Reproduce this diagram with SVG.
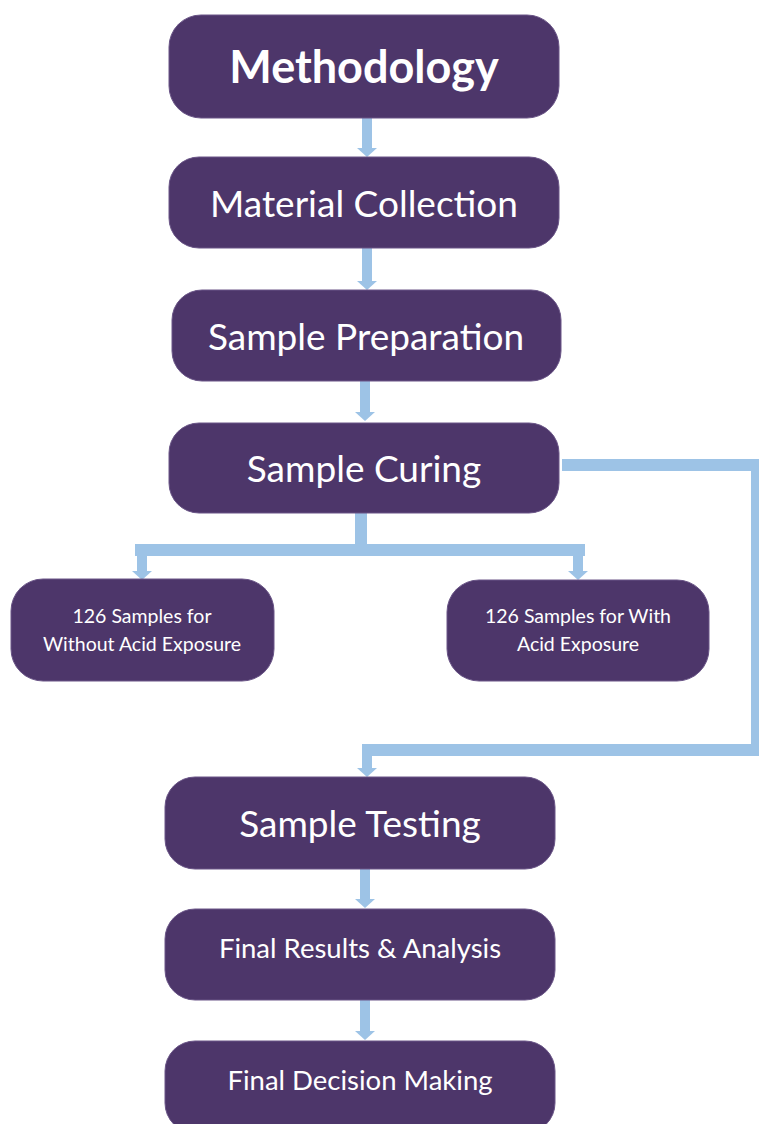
<svg xmlns="http://www.w3.org/2000/svg" width="759" height="1124" viewBox="0 0 759 1124">
<style>
.box{fill:#4D366A;stroke:#6A5587;stroke-width:1}
.t{fill:#FFFFFF;font-family:Lato,"Open Sans","Liberation Sans",sans-serif;text-anchor:middle}
.big{font-size:37px}
.mid{font-size:27.5px}
.sm{font-size:19.5px}
.title{font-size:45px;font-weight:bold}
.c{fill:#9DC3E6}
.cl{fill:none;stroke:#9DC3E6;stroke-width:12;stroke-linejoin:miter}
</style>
<rect width="759" height="1124" fill="#FFFFFF"/>
<g id="connectors">
  <rect class="c" x="362" y="118" width="10" height="31"/>
  <polygon class="c" points="357,148 377,148 367,157"/>
  <rect class="c" x="362" y="248" width="10" height="34"/>
  <polygon class="c" points="357,281 377,281 367,290"/>
  <rect class="c" x="360" y="381" width="10" height="32"/>
  <polygon class="c" points="355,412 375,412 365,421"/>
  <rect class="c" x="355" y="513" width="12" height="37"/>
  <rect class="c" x="135" y="544" width="450" height="12"/>
  <rect class="c" x="137" y="555" width="10" height="17"/>
  <polygon class="c" points="132,571 152,571 142,580"/>
  <rect class="c" x="573" y="555" width="10" height="17"/>
  <polygon class="c" points="568,571 588,571 578,580"/>
  <path class="cl" d="M562,465 H757 V750 H362"/>
  <rect class="c" x="362" y="750" width="10" height="19"/>
  <polygon class="c" points="357,768 377,768 367,777"/>
  <rect class="c" x="360" y="869" width="10" height="31"/>
  <polygon class="c" points="355,899 375,899 365,908"/>
  <rect class="c" x="360" y="1000" width="10" height="32"/>
  <polygon class="c" points="355,1031 375,1031 365,1040"/>
</g>
<g id="methodology">
  <rect class="box" x="169" y="15" width="390" height="103" rx="32"/>
  <text class="t title" x="364" y="83">Methodology</text>
</g>
<g id="material-collection">
  <rect class="box" x="169" y="157" width="390" height="91" rx="30"/>
  <text class="t big" x="364" y="217">Material Collection</text>
</g>
<g id="sample-preparation">
  <rect class="box" x="172" y="290" width="389" height="91" rx="30"/>
  <text class="t big" x="366" y="350">Sample Preparation</text>
</g>
<g id="sample-curing">
  <rect class="box" x="169" y="423" width="390" height="90" rx="30"/>
  <text class="t big" x="364" y="482">Sample Curing</text>
</g>
<g id="without-acid">
  <rect class="box" x="11" y="579" width="263" height="102" rx="32"/>
  <text class="t sm" x="142" y="623">126 Samples for</text>
  <text class="t sm" x="142" y="651">Without Acid Exposure</text>
</g>
<g id="with-acid">
  <rect class="box" x="447" y="580" width="262" height="101" rx="32"/>
  <text class="t sm" x="578" y="623">126 Samples for With</text>
  <text class="t sm" x="578" y="651">Acid Exposure</text>
</g>
<g id="sample-testing">
  <rect class="box" x="165" y="777" width="390" height="92" rx="30"/>
  <text class="t big" x="360" y="837">Sample Testing</text>
</g>
<g id="final-results">
  <rect class="box" x="165" y="909" width="390" height="91" rx="30"/>
  <text class="t mid" x="360" y="958">Final Results &amp; Analysis</text>
</g>
<g id="final-decision">
  <rect class="box" x="165" y="1041" width="390" height="92" rx="30"/>
  <text class="t mid" x="360" y="1090">Final Decision Making</text>
</g>
</svg>
